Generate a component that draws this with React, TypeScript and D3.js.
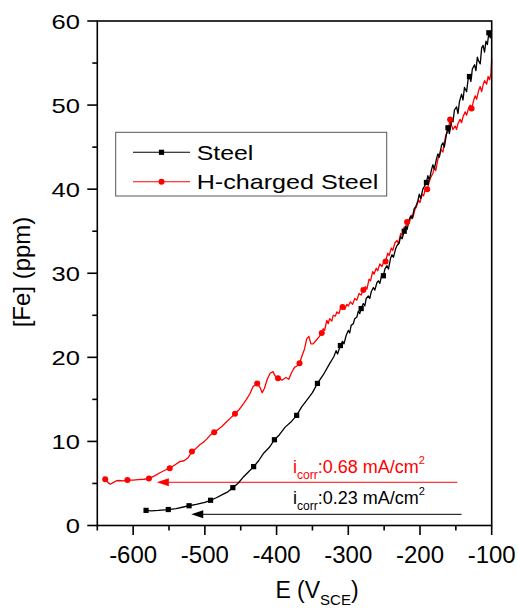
import React from "react";
import * as d3 from "d3";

// ---------- data: [E (mV vs SCE), [Fe] (ppm)] ----------
const steelData: [number, number][] = [
  [-582, 1.8], [-575, 1.75], [-565, 1.8], [-551, 1.9], [-540, 2.0], [-530, 2.2], [-522, 2.35], [-512, 2.5],
  [-500, 2.75], [-492, 3.0], [-484, 3.3], [-475, 3.7], [-468, 4.0], [-461, 4.5], [-454, 5.0], [-447, 5.7],
  [-440, 6.3], [-432, 7.0], [-425, 7.7], [-418, 8.6], [-410, 9.3], [-403, 10.2], [-396, 10.8], [-388, 11.7],
  [-380, 12.3], [-372, 13.1], [-365, 14.1], [-357, 15.0], [-350, 15.8], [-343, 16.9], [-335, 17.9], [-327, 19.1],
  [-320, 20.1], [-317, 20.8], [-315, 20.4], [-311, 21.4], [-308, 21.9], [-306, 21.6], [-303, 22.6], [-300, 23.2],
  [-298, 22.9], [-296, 23.8], [-293, 24.0], [-291, 24.6], [-288, 24.8], [-286, 25.5], [-284, 25.2], [-282, 25.8],
  [-279, 26.4], [-277, 26.1], [-275, 27.0], [-272, 27.3], [-270, 27.0], [-268, 27.8], [-265, 28.3], [-263, 28.0],
  [-260, 28.9], [-258, 29.1], [-256, 28.8], [-253, 29.9], [-251, 29.7], [-249, 30.5], [-246, 30.9], [-244, 30.5],
  [-241, 31.8], [-239, 32.2], [-237, 31.9], [-234, 32.9], [-232, 33.3], [-229, 33.6], [-227, 34.4], [-225, 34.1],
  [-222, 35.0], [-220, 35.6], [-218, 35.2], [-215, 36.4], [-213, 36.8], [-211, 36.5], [-208, 37.7], [-206, 37.9],
  [-203, 38.6], [-201, 39.4], [-199, 38.9], [-196, 40.0], [-194, 40.3], [-191, 40.8], [-189, 41.6], [-187, 41.1],
  [-184, 42.3], [-182, 42.9], [-180, 42.4], [-177, 43.6], [-175, 44.2], [-173, 43.8], [-170, 45.2], [-168, 45.5],
  [-166, 45.0], [-163, 46.6], [-161, 47.3], [-159, 46.6], [-156, 48.2], [-154, 48.0], [-152, 49.4], [-149, 49.8],
  [-147, 49.0], [-145, 50.4], [-142, 51.3], [-140, 50.6], [-138, 52.1], [-135, 51.6], [-133, 53.0], [-131, 53.4],
  [-129, 52.8], [-127, 54.3], [-124, 54.8], [-122, 54.1], [-120, 55.7], [-118, 55.2], [-116, 54.9], [-114, 56.8],
  [-112, 57.1], [-110, 56.3], [-108, 57.6], [-106, 57.2], [-104, 58.6], [-102, 58.0], [-100, 58.9],
];
const steelMarkerE = [-582, -551, -522, -492, -461, -432, -403, -372, -343, -311, -282, -251, -222, -191, -161, -131, -104];

const hData: [number, number][] = [
  [-639, 5.5], [-635, 5.1], [-632, 4.9], [-628, 5.1], [-624, 5.3], [-620, 5.35], [-614, 5.3], [-608, 5.4],
  [-600, 5.4], [-593, 5.45], [-585, 5.5], [-578, 5.6], [-570, 5.9], [-562, 6.3], [-555, 6.6], [-549, 6.8],
  [-542, 7.2], [-535, 7.6], [-529, 7.7], [-523, 8.1], [-518, 8.8], [-512, 9.2], [-507, 9.6], [-502, 9.9],
  [-497, 10.3], [-492, 10.8], [-487, 11.1], [-482, 11.4], [-476, 11.8], [-470, 12.3], [-464, 12.8], [-458, 13.3],
  [-452, 13.8], [-446, 14.5], [-442, 15.0], [-437, 15.7], [-433, 16.5], [-427, 16.9], [-423, 16.4], [-420, 15.8],
  [-417, 16.3], [-413, 17.4], [-409, 18.1], [-405, 18.3], [-402, 17.8], [-398, 17.5], [-392, 17.3], [-387, 17.6],
  [-383, 17.4], [-379, 18.2], [-375, 18.8], [-371, 19.0], [-368, 19.3], [-364, 20.3], [-361, 21.0], [-358, 22.2],
  [-355, 22.5], [-352, 21.6], [-349, 21.6], [-345, 22.0], [-341, 22.4], [-337, 22.9], [-335, 23.4], [-333, 23.2],
  [-330, 24.4], [-328, 24.0], [-326, 24.6], [-323, 24.3], [-321, 25.0], [-318, 24.9], [-316, 25.4], [-313, 25.2],
  [-311, 25.8], [-308, 26.0], [-305, 25.7], [-302, 26.3], [-300, 26.1], [-297, 26.6], [-294, 26.3], [-291, 27.0],
  [-288, 26.8], [-285, 27.6], [-282, 27.4], [-279, 28.0], [-276, 28.4], [-274, 28.1], [-271, 29.3], [-269, 29.1],
  [-266, 30.2], [-264, 29.9], [-261, 30.6], [-259, 30.3], [-256, 31.1], [-253, 30.8], [-250, 31.5], [-248, 31.4],
  [-245, 32.4], [-243, 32.1], [-240, 33.0], [-238, 32.7], [-235, 33.6], [-232, 33.9], [-230, 33.5], [-227, 34.7],
  [-225, 34.5], [-222, 35.5], [-220, 35.3], [-218, 36.1], [-215, 36.0], [-212, 36.9], [-210, 36.6], [-207, 37.6],
  [-205, 37.9], [-202, 38.7], [-200, 38.4], [-197, 39.4], [-195, 39.2], [-192, 40.2], [-190, 40.0], [-187, 40.9],
  [-185, 41.4], [-182, 41.9], [-180, 42.6], [-178, 42.2], [-175, 43.6], [-173, 44.0], [-171, 44.7], [-168, 44.4],
  [-166, 45.6], [-164, 46.4], [-161, 46.9], [-158, 48.3], [-156, 47.6], [-154, 47.1], [-151, 47.5], [-149, 47.1],
  [-147, 47.8], [-144, 48.3], [-142, 47.9], [-140, 48.6], [-137, 49.2], [-135, 48.8], [-132, 49.7], [-130, 50.0],
  [-128, 49.6], [-125, 50.6], [-123, 51.1], [-121, 50.7], [-118, 51.8], [-116, 52.2], [-114, 51.6], [-112, 52.4],
  [-110, 52.9], [-107, 52.5], [-105, 53.4], [-103, 53.0], [-101, 53.8], [-100, 55.5],
];
const hMarkerE = [-639, -608, -578, -549, -518, -487, -458, -427, -398, -368, -337, -308, -279, -248, -218, -190, -158, -128];

const seriesNames = ["Steel", "H-charged Steel"];

// icorr annotation arrows
const icorrValues = ["0.68", "0.23"];
const icorrTipE = [-567, -519];
const icorrEndE = [-148, -142];
const icorrFe = [5.14, 1.33];

const xMajor = [-600, -500, -400, -300, -200, -100];
const xMinor = [-650, -550, -450, -350, -250, -150];
const yMajor = [0, 10, 20, 30, 40, 50, 60];
const yMinor = [5, 15, 25, 35, 45, 55];

// ---------- styles ----------
const RED = "#ff0000";
const BLACK = "#000000";
const FONT = "'Liberation Sans', Arial, Helvetica, sans-serif";

export default function App() {
  const x = d3.scaleLinear().domain([-650, -100]).range([97.3, 491.7]);
  const y = d3.scaleLinear().domain([0, 60]).range([525.5, 21]);

  const line = d3
    .line<[number, number]>()
    .x((d) => x(d[0]))
    .y((d) => y(d[1]));

  const nearest = (arr: [number, number][], e: number) =>
    arr.reduce((b, d) => (Math.abs(d[0] - e) < Math.abs(b[0] - e) ? d : b), arr[0]);

  const steelMarks = steelMarkerE.map((e) => nearest(steelData, e));
  const hMarks = hMarkerE.map((e) => nearest(hData, e));

  const [x0, x1] = x.range();
  const [yb, yt] = y.range();
  const colors = [RED, BLACK];

  return (
    <svg
      width={518}
      height={608}
      style={{ position: "absolute", left: 0, top: 0, background: "#fff" }}
      fontFamily={FONT}
    >
      <rect x={0} y={0} width={518} height={608} fill="#fff" />

      {/* annotation arrows */}
      {icorrValues.map((v, i) => {
        const c = colors[i];
        const ly = y(icorrFe[i]);
        const tip = x(icorrTipE[i]);
        const end = x(icorrEndE[i]);
        return (
          <g key={"arr" + i}>
            <line x1={tip + 8} x2={end} y1={ly} y2={ly} stroke={c} strokeWidth={1} />
            <path d={`M${tip},${ly} L${tip + 12},${ly - 4} L${tip + 12},${ly + 4} Z`} fill={c} />
          </g>
        );
      })}
      {icorrValues.map((v, i) => {
        const c = colors[i];
        const baseY = i === 0 ? 473.3 : 504;
        return (
          <text key={"ann" + i} x={293} y={baseY} fill={c} fontSize={18}>
            i
            <tspan fontSize={12} dy={6}>
              corr
            </tspan>
            <tspan fontSize={18} dy={-6}>
              :{v} mA/cm
            </tspan>
            <tspan fontSize={11} dy={-9}>
              2
            </tspan>
          </text>
        );
      })}

      {/* curves */}
      <path d={line(hData) || ""} fill="none" stroke={RED} strokeWidth={1.3} strokeLinejoin="round" />
      <path d={line(steelData) || ""} fill="none" stroke={BLACK} strokeWidth={1.3} strokeLinejoin="round" />
      {hMarks.map((d, i) => (
        <circle key={"hm" + i} cx={x(d[0])} cy={y(d[1])} r={3} fill={RED} />
      ))}
      {steelMarks.map((d, i) => (
        <rect key={"sm" + i} x={x(d[0]) - 2.6} y={y(d[1]) - 2.6} width={5.2} height={5.2} fill={BLACK} />
      ))}

      {/* frame */}
      <rect x={x0} y={yt} width={x1 - x0} height={yb - yt} fill="none" stroke="#000" strokeWidth={1.6} />

      {/* x ticks */}
      {xMajor.map((t) => (
        <g key={"xM" + t}>
          <line x1={x(t)} x2={x(t)} y1={yb} y2={yb + 9.5} stroke="#000" strokeWidth={1.6} />
          <text x={x(t)} y={563} textAnchor="middle" fontSize={24}>
            {t}
          </text>
        </g>
      ))}
      {xMinor.map((t) => (
        <line key={"xm" + t} x1={x(t)} x2={x(t)} y1={yb} y2={yb + 5} stroke="#000" strokeWidth={1.6} />
      ))}

      {/* y ticks */}
      {yMajor.map((t) => (
        <g key={"yM" + t}>
          <line x1={x0 - 10} x2={x0} y1={y(t)} y2={y(t)} stroke="#000" strokeWidth={1.6} />
          <text
            x={80}
            y={y(t) + 7.5}
            textAnchor="end"
            fontSize={21}
            textLength={String(t).length * 14.2}
            lengthAdjust="spacingAndGlyphs"
          >
            {t}
          </text>
        </g>
      ))}
      {yMinor.map((t) => (
        <line key={"ym" + t} x1={x0 - 5} x2={x0} y1={y(t)} y2={y(t)} stroke="#000" strokeWidth={1.6} />
      ))}

      {/* axis titles */}
      <text transform="translate(30,272) rotate(-90)" textAnchor="middle" fontSize={24}>
        [Fe] (ppm)
      </text>
      <text x={317} y={598} textAnchor="middle" fontSize={23}>
        E (V
        <tspan fontSize={15} dy={7}>
          SCE
        </tspan>
        <tspan dy={-7}>)</tspan>
      </text>

      {/* legend */}
      <rect x={115.7} y={132.3} width={271} height={63.7} fill="#fff" stroke="#555" strokeWidth={1} />
      {seriesNames.map((n, i) => {
        const ly = i === 0 ? 152.3 : 181.7;
        const c = i === 0 ? BLACK : RED;
        return (
          <g key={"lg" + i}>
            <line x1={133} x2={190} y1={ly} y2={ly} stroke={c} strokeWidth={1.1} />
            {i === 0 ? (
              <rect x={161.5 - 2.6} y={ly - 2.6} width={5.2} height={5.2} fill={c} />
            ) : (
              <circle cx={161.5} cy={ly} r={3} fill={c} />
            )}
            <text
              x={196.7}
              y={ly + 7.5}
              fontSize={21}
              textLength={i === 0 ? 56.7 : 181.6}
              lengthAdjust="spacingAndGlyphs"
            >
              {n}
            </text>
          </g>
        );
      })}
    </svg>
  );
}
